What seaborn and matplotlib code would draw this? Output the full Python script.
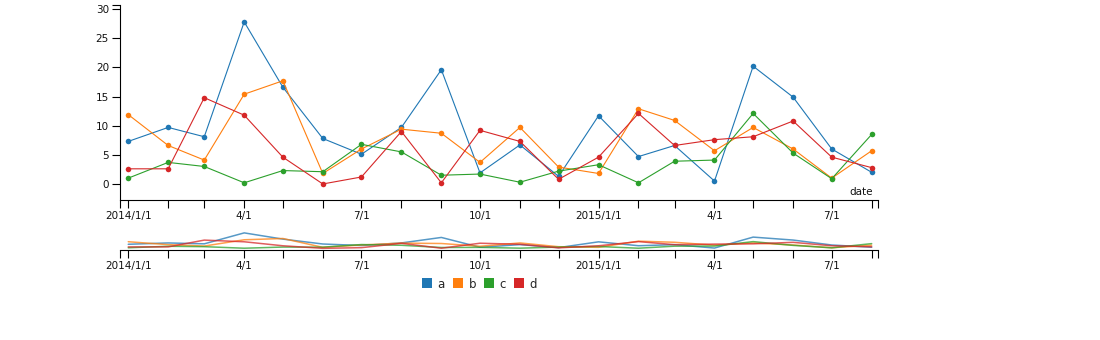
import numpy as np
import pandas as pd
import matplotlib
matplotlib.use("Agg")
import matplotlib.pyplot as plt
import matplotlib.dates as mdates
from matplotlib.lines import Line2D
import seaborn as sns

# ---- data ----
months = pd.date_range("2014-01-01", "2015-08-01", freq="MS")
series_names = ["a", "b", "c", "d"]
a_values = [7.3, 9.7, 8.1, 27.8, 16.6, 7.8, 5.1, 9.7, 19.6, 1.9, 6.7, 1.3, 11.7, 4.7, 6.6, 0.5, 20.2, 14.9, 6.0, 2.0]
b_values = [11.9, 6.6, 4.1, 15.4, 17.7, 1.8, 6.0, 9.4, 8.7, 3.7, 9.7, 2.9, 1.8, 12.9, 10.9, 5.7, 9.7, 6.0, 1.0, 5.7]
c_values = [1.0, 3.7, 3.0, 0.2, 2.3, 2.1, 6.8, 5.5, 1.5, 1.7, 0.3, 2.2, 3.3, 0.2, 3.9, 4.1, 12.1, 5.3, 0.9, 8.5]
d_values = [2.6, 2.6, 14.8, 11.8, 4.6, 0.0, 1.2, 9.0, 0.2, 9.2, 7.3, 0.8, 4.6, 12.1, 6.6, 7.6, 8.1, 10.8, 4.6, 2.8]
tick_dates = pd.to_datetime(["2014-01-01", "2014-04-01", "2014-07-01", "2014-10-01",
                             "2015-01-01", "2015-04-01", "2015-07-01"])
tick_labels = ["2014/1/1", "4/1", "7/1", "10/1", "2015/1/1", "4/1", "7/1"]
y_ticks = [0, 5, 10, 15, 20, 25, 30]
colors = ["#1f77b4", "#ff7f0e", "#2ca02c", "#d62728"]

df = pd.DataFrame({
    "date": np.tile(months, 4),
    "value": a_values + b_values + c_values + d_values,
    "series": np.repeat(series_names, len(months)),
})
palette = dict(zip(series_names, colors))

sns.set_style("ticks")
plt.rcParams["font.family"] = ["DejaVu Sans"]

W, H = 1100, 340
fig = plt.figure(figsize=(W / 100, H / 100), dpi=100)

def fx(px):
    return px / W

def fy(py):
    return 1 - py / H

ax = fig.add_axes([fx(120), fy(200), fx(878 - 120), fy(5) - fy(200)])
nav = fig.add_axes([fx(120), fy(250), fx(878 - 120), fy(230) - fy(250)])

xmin = months[0] - pd.Timedelta(days=6.4)
xmax = months[-1] + pd.Timedelta(days=4.9)

sns.lineplot(data=df, x="date", y="value", hue="series", palette=palette, ax=ax,
             marker="o", markersize=4, markeredgewidth=0, linewidth=0.8, legend=False)
sns.lineplot(data=df, x="date", y="value", hue="series", palette=palette, ax=nav,
             linewidth=1.1, alpha=0.75, legend=False)

for a in (ax, nav):
    a.set_xlim(xmin, xmax)
    a.set_xticks(tick_dates)
    a.set_xticklabels(tick_labels)
    minor = list(mdates.date2num(months)) + [mdates.date2num(xmin), mdates.date2num(xmax)]
    a.set_xticks(minor, minor=True)
    a.tick_params(axis="x", which="both", length=6, width=0.8, color="black",
                  labelsize=7.5, pad=2, labelcolor="#111111")
    a.set_xlabel("")
    a.set_ylabel("")
    for s in ("top", "right"):
        a.spines[s].set_visible(False)
    a.spines["bottom"].set_linewidth(0.8)
    a.spines["bottom"].set_color("black")

ax.set_ylim(-2.75, 30.7)
ax.set_yticks(y_ticks)
ax.set_yticks([30.7], minor=True)
ax.tick_params(axis="y", which="both", length=6, width=0.8, color="black",
               labelsize=7.5, pad=2, labelcolor="#111111")
ax.spines["left"].set_linewidth(0.8)
ax.spines["left"].set_color("black")

nav.set_ylim(-3, 33)
nav.spines["left"].set_visible(False)
nav.set_yticks([])

fig.text(fx(873), fy(192), "date", ha="right", va="center", fontsize=7.5, color="#111111")

handles = [Line2D([], [], marker="s", linestyle="none", markersize=7.5,
                  markerfacecolor=c, markeredgewidth=0) for c in colors]
fig.legend(handles, series_names, loc="center", bbox_to_anchor=(fx(479), fy(284)),
           ncol=4, frameon=False, fontsize=8.5, handletextpad=0.4, columnspacing=0.6,
           handlelength=1.0)

fig.savefig("out.png", dpi=100)
